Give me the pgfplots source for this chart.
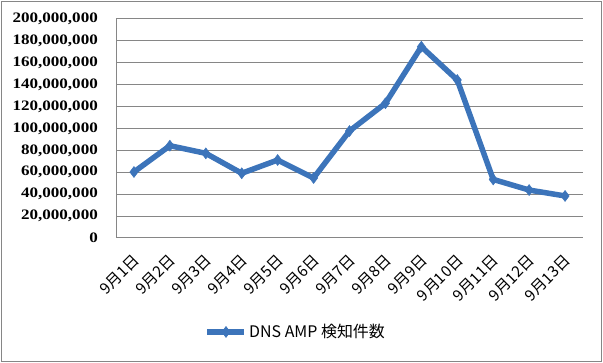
\documentclass[border=0pt]{standalone}
\usepackage{fontspec}
\usepackage{pgfplots}
\pgfplotsset{compat=1.18}
\setmainfont{Liberation Serif}
\newfontfamily\jp{Noto Sans CJK JP}
\newfontfamily\tickfont[FakeStretch=1.18]{Liberation Serif Bold}
\definecolor{lineblue}{RGB}{60,116,186}
\definecolor{gridgray}{RGB}{134,134,134}
\begin{document}
\begin{tikzpicture}
\useasboundingbox (0,0) rectangle (603bp,363bp);
\draw[gridgray, line width=1bp] (1.5bp,1.5bp) rectangle (601.5bp,361.5bp);
\begin{axis}[
  at={(116bp,125bp)}, anchor=south west,
  scale only axis, width=467bp, height=219bp,
  xmin=-0.5, xmax=12.5, ymin=0, ymax=200000000,
  scaled y ticks=false,
  axis lines*=left,
  x axis line style={draw=none},
  y axis line style={draw=gridgray, line width=1bp},
  major tick length=0pt,
  ymajorgrids, grid style={gridgray, line width=1bp},
  ytick={0,20000000,40000000,60000000,80000000,100000000,120000000,140000000,160000000,180000000,200000000},
  yticklabels={0,{20,000,000},{40,000,000},{60,000,000},{80,000,000},{100,000,000},{120,000,000},{140,000,000},{160,000,000},{180,000,000},{200,000,000}},
  yticklabel style={font=\tickfont\fontsize{14.5}{16}\selectfont, inner sep=0pt, anchor=east, xshift=-18bp},
  xtick={0,...,12},
  xticklabels={9月1日,9月2日,9月3日,9月4日,9月5日,9月6日,9月7日,9月8日,9月9日,9月10日,9月11日,9月12日,9月13日},
  xticklabel style={font=\jp\fontsize{15.5}{17}\selectfont, xshift=3bp, yshift=-20bp, rotate=45, anchor=east, inner sep=0pt},
  legend style={at={(0.385,-0.429)}, anchor=center, draw=none, fill=none,
    font=\jp\fontsize{16}{18}\selectfont, inner sep=0pt,
    legend cell align=left},
  legend image code/.code={\draw[mark repeat=2,mark phase=2,#1] plot coordinates {(0bp,0bp) (18.5bp,0bp) (37bp,0bp)};},
]
\addplot[lineblue, line width=5.5bp, mark=diamond*, mark size=5.5bp, mark options={line width=0.5bp, fill=lineblue}]
coordinates {
(0,60300000) (1,84300000) (2,77300000) (3,59100000) (4,71200000) (5,54800000)
(6,97700000) (7,123000000) (8,174700000) (9,144300000) (10,53500000) (11,43800000) (12,38400000)
};
\addlegendentry{DNS AMP 検知件数}
\end{axis}
\end{tikzpicture}
\end{document}
